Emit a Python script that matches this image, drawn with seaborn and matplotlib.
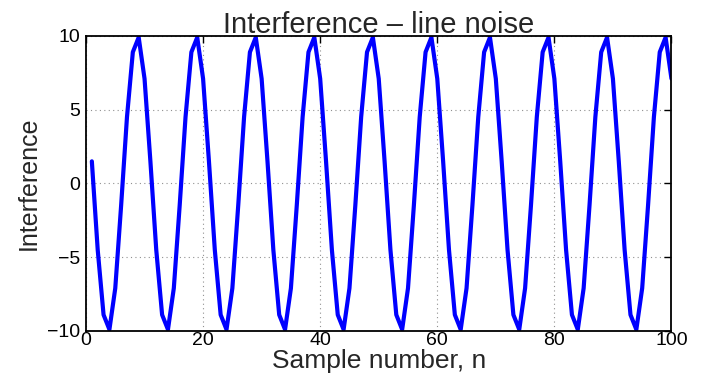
import matplotlib
matplotlib.use("Agg")
import matplotlib.pyplot as plt
import seaborn as sns
import numpy as np

#   Datos (muestras 1..100)
sample_n = list(range(1, 101))
interference = [
    1.5, -4.5, -8.9, -9.9, -7.1, -1.5, 4.5, 8.9, 9.9, 7.1,
    1.5, -4.5, -8.9, -9.9, -7.1, -1.5, 4.5, 8.9, 9.9, 7.1,
    1.5, -4.5, -8.9, -9.9, -7.1, -1.5, 4.5, 8.9, 9.9, 7.1,
    1.5, -4.5, -8.9, -9.9, -7.1, -1.5, 4.5, 8.9, 9.9, 7.1,
    1.5, -4.5, -8.9, -9.9, -7.1, -1.5, 4.5, 8.9, 9.9, 7.1,
    1.5, -4.5, -8.9, -9.9, -7.1, -1.5, 4.5, 8.9, 9.9, 7.1,
    1.5, -4.5, -8.9, -9.9, -7.1, -1.5, 4.5, 8.9, 9.9, 7.1,
    1.5, -4.5, -8.9, -9.9, -7.1, -1.5, 4.5, 8.9, 9.9, 7.1,
    1.5, -4.5, -8.9, -9.9, -7.1, -1.5, 4.5, 8.9, 9.9, 7.1,
    1.5, -4.5, -8.9, -9.9, -7.1, -1.5, 4.5, 8.9, 9.9, 7.1,
]
x_ticks = [0, 20, 40, 60, 80, 100]
y_ticks = [-10, -5, 0, 5, 10]

sns.set_style("white")
plt.rcParams['font.family'] = ['Liberation Sans', 'DejaVu Sans']

fig = plt.figure(figsize=(7.02, 3.74), dpi=100)
ax = fig.add_axes([0.1225, 0.115, 0.834, 0.789])

sns.lineplot(x=sample_n, y=interference, color='#0000ff', linewidth=3.0, ax=ax)

ax.set_xlim(0, 100)
ax.set_ylim(-10, 10)
ax.set_xticks(x_ticks)
ax.set_yticks(y_ticks)
ax.set_yticklabels(['\u221210', '\u22125', '0', '5', '10'])
ax.grid(True, linestyle=(0, (1, 3)), color='#909090', linewidth=0.8)
ax.tick_params(direction='in', length=5, width=1, top=True, right=True,
               labelsize=14, colors='black')
ax.tick_params(axis='x', pad=1)
ax.tick_params(axis='y', pad=4)
for s in ax.spines.values():
    s.set_linewidth(1.3)
    s.set_color('black')

ax.set_title('Interference \u2013 line noise', fontsize=21, pad=2)
ax.set_xlabel('Sample number, n', fontsize=19, labelpad=0)
ax.set_ylabel('Interference', fontsize=18, labelpad=5)

fig.savefig('out.png', dpi=100)
